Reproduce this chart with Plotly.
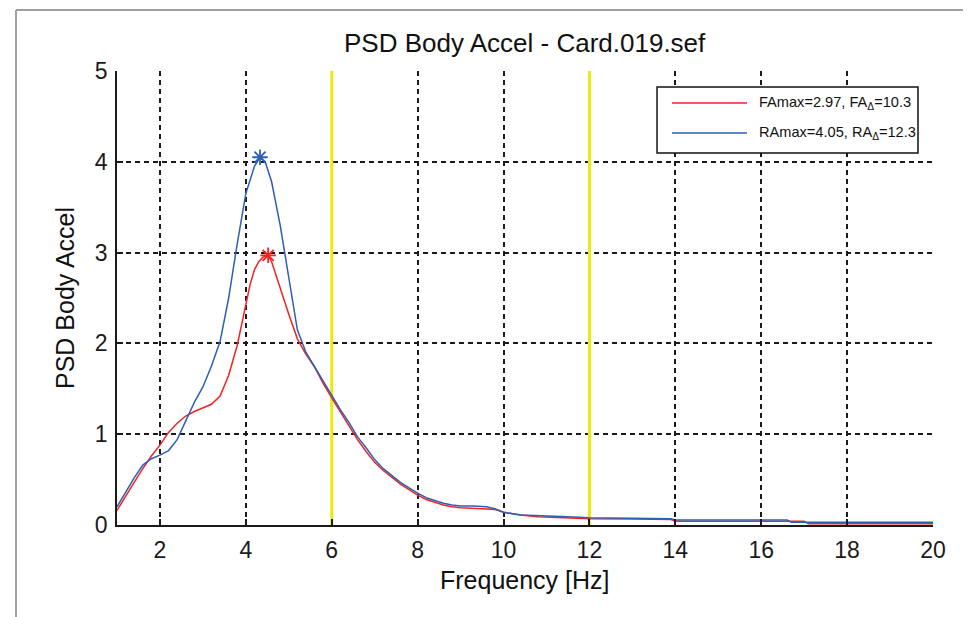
import plotly.graph_objects as go

# ---- data ----
freq_front = [1.0, 1.2, 1.4, 1.6, 1.8, 2.0, 2.2, 2.4, 2.6, 2.8, 3.0, 3.2, 3.4, 3.6, 3.8, 4.0,
              4.1, 4.2, 4.3, 4.4, 4.52, 4.6, 4.8, 5.0, 5.2, 5.4, 5.6, 5.8, 6.0, 6.2, 6.4, 6.6, 6.8,
              7.0, 7.2, 7.4, 7.6, 7.8, 8.0, 8.2, 8.4, 8.6, 8.8, 9.0, 9.5, 9.8, 10.0, 10.4,
              10.8, 11.5, 12.0, 13.0, 13.9, 14.0, 17.0, 17.1, 20.0]
psd_front = [0.16, 0.32, 0.47, 0.62, 0.76, 0.88, 1.02, 1.12, 1.20, 1.25, 1.29, 1.33, 1.42, 1.65, 1.98, 2.42,
             2.65, 2.81, 2.90, 2.95, 2.97, 2.90, 2.60, 2.32, 2.05, 1.88, 1.74, 1.56, 1.40, 1.25, 1.10, 0.94, 0.81,
             0.69, 0.60, 0.52, 0.45, 0.39, 0.33, 0.28, 0.25, 0.22, 0.20, 0.19, 0.18, 0.17, 0.14, 0.11,
             0.09, 0.08, 0.07, 0.065, 0.06, 0.04, 0.04, 0.015, 0.015]

freq_rear = [1.0, 1.2, 1.4, 1.6, 1.8, 2.0, 2.2, 2.4, 2.6, 2.8, 3.0, 3.2, 3.4, 3.6, 3.8, 4.0,
             4.2, 4.33, 4.45, 4.6, 4.8, 5.0, 5.2, 5.4, 5.6, 5.8, 6.0, 6.2, 6.4, 6.6, 6.8,
             7.0, 7.2, 7.4, 7.6, 7.8, 8.0, 8.2, 8.4, 8.6, 8.8, 9.0, 9.3, 9.6, 9.8, 10.0, 10.4,
             10.8, 11.5, 12.0, 13.0, 13.9, 14.0, 16.6, 16.7, 20.0]
psd_rear = [0.20, 0.36, 0.52, 0.66, 0.73, 0.77, 0.82, 0.94, 1.15, 1.35, 1.52, 1.75, 2.02, 2.50, 3.10, 3.65,
            3.95, 4.05, 4.00, 3.78, 3.30, 2.70, 2.15, 1.90, 1.74, 1.58, 1.42, 1.27, 1.13, 0.97, 0.85,
            0.72, 0.62, 0.54, 0.47, 0.41, 0.35, 0.30, 0.27, 0.24, 0.22, 0.21, 0.21, 0.20, 0.18, 0.14, 0.11,
            0.10, 0.09, 0.08, 0.075, 0.07, 0.055, 0.055, 0.03, 0.03]

peak_front = (4.52, 2.97)
peak_rear = (4.33, 4.05)
band_limits = [6, 12]

legend_labels = ["FAmax=2.97, FA<sub>Δ</sub>=10.3", "RAmax=4.05, RA<sub>Δ</sub>=12.3"]
title_text = "PSD Body Accel - Card.019.sef"
x_title = "Frequency [Hz]"
y_title = "PSD Body Accel"
x_ticks = [2, 4, 6, 8, 10, 12, 14, 16, 18, 20]
y_ticks = [0, 1, 2, 3, 4, 5]

RED = "#f22323"
BLUE = "#2d5fb5"
YELLOW = "#eaea10"
INK = "#1a1a1a"
FONT = "Arial, Liberation Sans, sans-serif"

fig = go.Figure()

for f in band_limits:
    fig.add_trace(go.Scatter(x=[f, f], y=[y_ticks[0], y_ticks[-1]], mode="lines",
                             line=dict(color=YELLOW, width=3), showlegend=False, hoverinfo="skip"))

fig.add_trace(go.Scatter(x=freq_front, y=psd_front, mode="lines",
                         line=dict(color=RED, width=1.5), showlegend=False))
fig.add_trace(go.Scatter(x=freq_rear, y=psd_rear, mode="lines",
                         line=dict(color=BLUE, width=1.5), showlegend=False))
fig.add_trace(go.Scatter(x=[peak_front[0]], y=[peak_front[1]], mode="markers",
                         marker=dict(symbol="asterisk-open", size=13, color=RED,
                                     line=dict(color=RED, width=1.8)),
                         showlegend=False))
fig.add_trace(go.Scatter(x=[peak_rear[0]], y=[peak_rear[1]], mode="markers",
                         marker=dict(symbol="asterisk-open", size=13, color=BLUE,
                                     line=dict(color=BLUE, width=1.8)),
                         showlegend=False))

axis_common = dict(showgrid=True, gridcolor=INK, gridwidth=1.6, griddash="5px,4px",
                   showline=True, linecolor=INK, linewidth=1.6, ticks="inside", ticklen=6,
                   tickcolor=INK, tickwidth=1.6, zeroline=False, mirror=False,
                   tickfont=dict(family=FONT, size=23, color=INK))

fig.update_xaxes(range=[1, 20], tickvals=x_ticks, ticklabelstandoff=4, **axis_common)
fig.update_yaxes(range=[0, 5], tickvals=y_ticks, ticklabelstandoff=3, **axis_common)

# legend box drawn manually (paper coordinates)
shapes = [
    dict(type="rect", xref="paper", yref="paper", x0=0.6618, x1=0.9816, y0=0.8194, y1=0.9648,
         line=dict(color="#111111", width=1.5), fillcolor="white", layer="above"),
    dict(type="line", xref="paper", yref="paper", x0=0.6801, x1=0.7721, y0=0.9295, y1=0.9295,
         line=dict(color=RED, width=1.5), layer="above"),
    dict(type="line", xref="paper", yref="paper", x0=0.6801, x1=0.7721, y0=0.8634, y1=0.8634,
         line=dict(color=BLUE, width=1.5), layer="above"),
    # outer window frame
    dict(type="line", xref="paper", yref="paper", x0=-0.1238, x1=-0.1238, y0=-0.21, y1=1.1344,
         line=dict(color="#a0a0a0", width=2)),
    dict(type="line", xref="paper", yref="paper", x0=-0.1238, x1=1.06, y0=1.1344, y1=1.1344,
         line=dict(color="#a0a0a0", width=2)),
]

annotations = [
    dict(text=legend_labels[0], xref="paper", yref="paper", x=0.7843, y=0.9295, xanchor="left",
         yanchor="middle", showarrow=False, font=dict(family=FONT, size=14.6, color="#111111")),
    dict(text=legend_labels[1], xref="paper", yref="paper", x=0.7843, y=0.8634, xanchor="left",
         yanchor="middle", showarrow=False, font=dict(family=FONT, size=14.6, color="#111111")),
    dict(text=title_text, xref="paper", yref="paper", x=0.5, y=1.0617, xanchor="center",
         yanchor="middle", showarrow=False, font=dict(family=FONT, size=26, color="#111111")),
    dict(text=x_title, xref="paper", yref="paper", x=0.5, y=-0.121, xanchor="center",
         yanchor="middle", showarrow=False, font=dict(family=FONT, size=25, color="#111111")),
    dict(text=y_title, xref="paper", yref="paper", x=-0.0637, y=0.5, xanchor="center",
         yanchor="middle", textangle=-90, showarrow=False, font=dict(family=FONT, size=25, color="#111111")),
]

fig.update_layout(
    width=971, height=617,
    margin=dict(l=109, r=46, t=63, b=100),
    paper_bgcolor="white", plot_bgcolor="white",
    shapes=shapes, annotations=annotations, showlegend=False,
)

fig.write_html("out.html")
